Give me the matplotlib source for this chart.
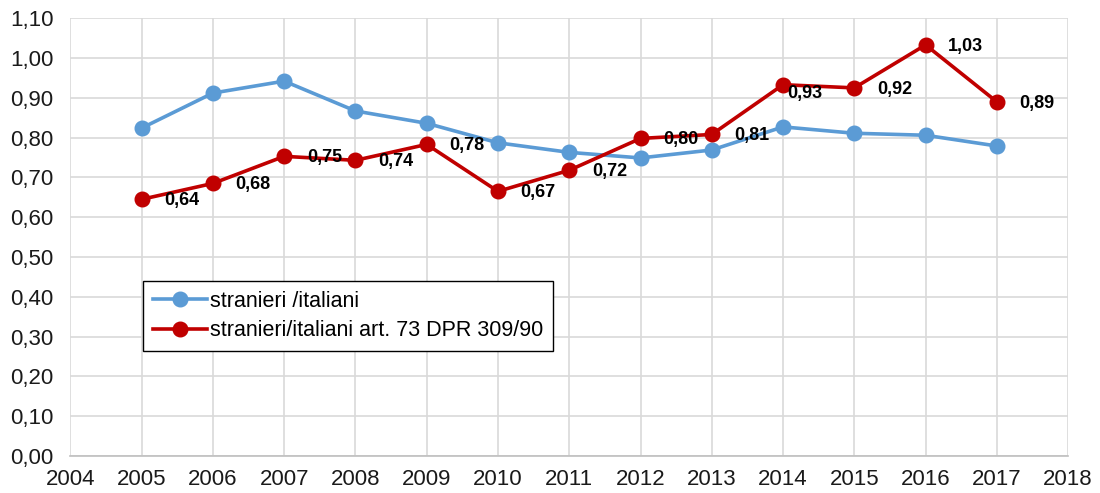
import matplotlib.pyplot as plt
from matplotlib.ticker import FuncFormatter

plt.rcParams['font.family'] = ['Liberation Sans', 'DejaVu Sans']

# Dati
anni = [2005, 2006, 2007, 2008, 2009, 2010, 2011, 2012, 2013, 2014, 2015, 2016, 2017]
stranieri_italiani = [0.824, 0.912, 0.942, 0.867, 0.836, 0.787, 0.763, 0.749, 0.769,
                      0.827, 0.811, 0.806, 0.779]
art73 = [0.645, 0.685, 0.753, 0.743, 0.783, 0.665, 0.718, 0.798, 0.808,
         0.933, 0.925, 1.033, 0.890]
etichette_art73 = ['0,64', '0,68', '0,75', '0,74', '0,78', '0,67', '0,72', '0,80',
                   '0,81', '0,93', '0,92', '1,03', '0,89']

BLU = '#5B9BD5'
ROSSO = '#C00000'

fig = plt.figure(figsize=(11, 4.93), dpi=100)
ax = fig.add_axes([0.064, 0.075, 0.907, 0.888])

ax.plot(anni, stranieri_italiani, color=BLU, lw=2.6, marker='o', ms=10.5,
        label='stranieri /italiani', zorder=3)
ax.plot(anni, art73, color=ROSSO, lw=2.6, marker='o', ms=10.5,
        label='stranieri/italiani art. 73 DPR 309/90', zorder=4)

# etichette dati (quella del 2014 spostata a mano come nell'originale)
for x, y, t in zip(anni, art73, etichette_art73):
    off = (16, -6) if x == 2014 else (29, -1)
    ax.annotate(t, (x, y), xytext=off, textcoords='offset points',
                ha='center', va='center', fontsize=13, fontweight='bold',
                color='black', zorder=5)

ax.set_xlim(2004, 2018)
ax.set_ylim(0, 1.1)
ax.set_xticks(range(2004, 2019))
ax.set_yticks([i / 10 for i in range(12)])
ax.yaxis.set_major_formatter(FuncFormatter(lambda v, p: f'{v:.2f}'.replace('.', ',')))

ax.grid(True, color='#d9d9d9', lw=1.2)
ax.set_axisbelow(True)
for s in ['top', 'right', 'left']:
    ax.spines[s].set_visible(False)
ax.spines['bottom'].set_color('#bfbfbf')
ax.spines['bottom'].set_linewidth(1.2)
ax.tick_params(length=0, labelsize=16, colors='#1a1a1a')
ax.tick_params(axis='y', pad=12)
ax.tick_params(axis='x', pad=9)

leg = ax.legend(loc='upper left', bbox_to_anchor=(0.13, 0.43),
                bbox_transform=fig.transFigure, borderaxespad=0,
                fancybox=False, edgecolor='black', framealpha=1,
                fontsize=15.5, handlelength=2.5, labelspacing=0.4,
                handletextpad=0.15, borderpad=0.45)
leg.get_frame().set_linewidth(1.0)

plt.savefig('out.png', dpi=100)
